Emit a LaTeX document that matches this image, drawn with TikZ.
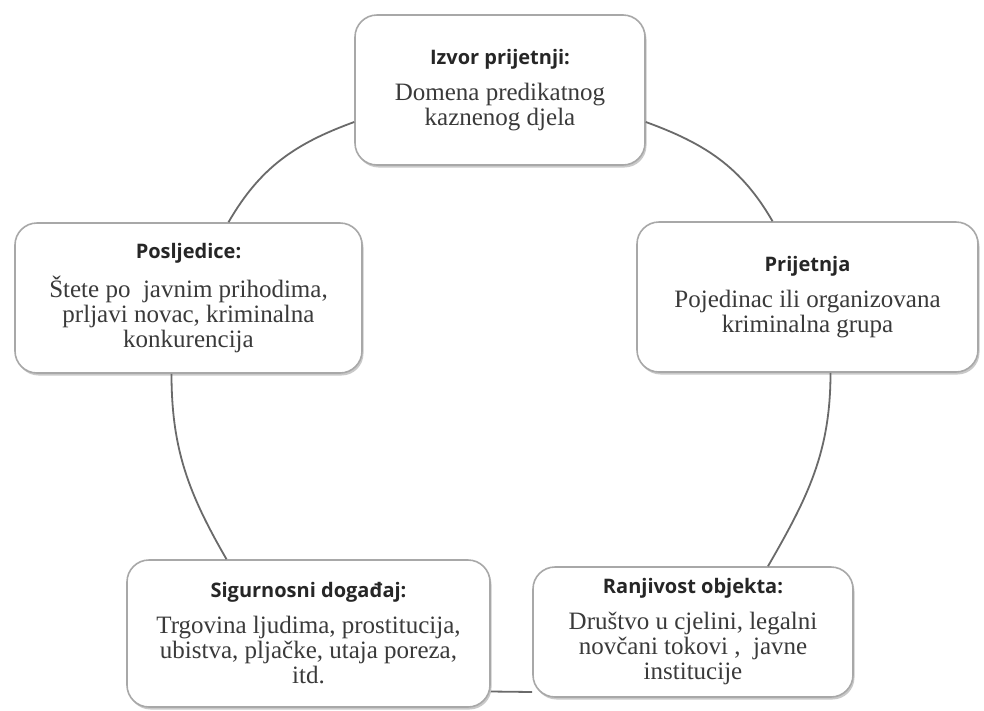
\documentclass[tikz,border=0pt]{standalone}
\usepackage{fontspec}
\setmainfont{Liberation Serif}
\newfontfamily\titlefont{Open Sans}
\usetikzlibrary{calc,shadows}
\definecolor{boxline}{HTML}{A8A8A8}
\definecolor{bodytext}{HTML}{3A3A3A}
\definecolor{arcline}{HTML}{6A6A6A}
\tikzset{
  cyclebox/.style={draw=boxline, line width=1.6pt, fill=white, rounded corners=22pt,
    align=center, inner sep=4pt,
    drop shadow={shadow xshift=1.5pt, shadow yshift=-2.5pt, opacity=0.35, fill=black!60},
    font=\fontsize{25}{25}\selectfont, text=bodytext},
  conn/.style={draw=arcline, line width=1.8pt},
}
\newcommand{\boxtitle}[1]{{\titlefont\bfseries\fontsize{20}{22}\selectfont\color{black!85}#1}\\[11pt]}
\begin{document}
\begin{tikzpicture}[x=1pt,y=-1pt]
\useasboundingbox[fill=white] (0,0) rectangle (984,710);
\node[cyclebox, minimum width=290pt, minimum height=150pt] (top) at (500,90)
  {\boxtitle{Izvor prijetnji:}Domena predikatnog\\kaznenog djela};
\node[cyclebox, minimum width=341pt, minimum height=150pt] (prij) at (807.5,297)
  {\boxtitle{Prijetnja}Pojedinac ili organizovana\\kriminalna grupa};
\node[cyclebox, minimum width=347pt, minimum height=150pt] (posl) at (188.5,298)
  {\boxtitle{Posljedice:}Štete po\ \ javnim prihodima,\\prljavi novac, kriminalna\\konkurencija};
\node[cyclebox, minimum width=363pt, minimum height=147pt] (sig) at (308.5,633.5)
  {\boxtitle{Sigurnosni događaj:}Trgovina ljudima, prostitucija,\\ubistva, pljačke, utaja poreza,\\itd.};
\node[cyclebox, minimum width=320pt, minimum height=130pt] (ran) at (693,632)
  {\boxtitle{Ranjivost objekta:}Društvo u cjelini, legalni\\novčani tokovi ,\ \ javne\\institucije};
\draw[conn] ($(top.west)+(0,32)$) to[out=200,in=60] ($(posl.north)+(40,0)$);
\draw[conn] ($(top.east)+(0,32)$) to[out=-20,in=120] ($(prij.north)+(-35,0)$);
\draw[conn] ($(posl.south)+(-17,0)$) to[out=-90,in=120] ($(sig.north)+(-82,0)$);
\draw[conn] ($(prij.south)+(23,0)$) to[out=-90,in=60] ($(ran.north)+(75,0)$);
\draw[conn] ($(sig.east)+(0,58)$) -- ($(ran.west)+(0,60)$);
\end{tikzpicture}
\end{document}
